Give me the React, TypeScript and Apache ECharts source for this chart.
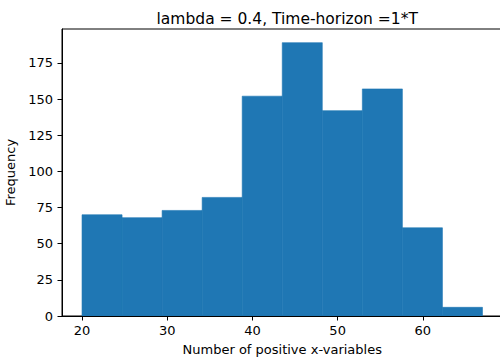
import { useEffect, useRef } from "react";
import * as echarts from "echarts";

// Histogram bins: edges and counts per bin
const binEdges = [20, 24.7, 29.4, 34.1, 38.8, 43.5, 48.2, 52.9, 57.6, 62.3, 67];
const counts = [70, 68, 73, 82, 152, 189, 142, 157, 61, 6];
const xTicks = [20, 30, 40, 50, 60];
const yTicks = [0, 25, 50, 75, 100, 125, 150, 175];

const titleText = "lambda = 0.4, Time-horizon =1*T";
const xName = "Number of positive x-variables";
const yName = "Frequency";

const FONT = "DejaVu Sans";
const BAR = "#1f77b4";

export default function App() {
  const ref = useRef<HTMLDivElement>(null);

  useEffect(() => {
    if (!ref.current) return;
    const chart = echarts.init(ref.current, undefined, { renderer: "svg" });

    const lo = binEdges[0];
    const hi = binEdges[binEdges.length - 1];
    const pad = (hi - lo) * 0.05;
    const yMax = Math.max(...counts) * 1.05;

    const data = counts.map((c, i) => [binEdges[i], binEdges[i + 1], c]);

    const gridLeft = 62;
    const gridWidth = 440.5;

    chart.setOption({
      animation: false,
      title: {
        text: titleText,
        left: gridLeft + gridWidth / 2,
        textAlign: "center",
        top: 6,
        textStyle: {
          fontFamily: FONT,
          fontSize: 15.5,
          fontWeight: "normal",
          color: "#000",
        },
      },
      grid: {
        left: gridLeft,
        top: 29,
        width: gridWidth,
        height: 287,
        containLabel: false,
        outerBoundsMode: "none",
        show: true,
        borderColor: "#000",
        borderWidth: 1,
        backgroundColor: "transparent",
      },
      xAxis: {
        type: "value",
        min: lo - pad,
        max: hi + pad,
        z: 10,
        name: xName,
        nameLocation: "middle",
        nameGap: 27,
        nameTextStyle: { fontFamily: FONT, fontSize: 13, color: "#000" },
        splitLine: { show: false },
        axisLine: { show: true, onZero: false, lineStyle: { color: "#000", width: 1 } },
        axisTick: {
          show: true,
          length: 4.5,
          customValues: xTicks,
          lineStyle: { color: "#000", width: 1 },
        },
        axisLabel: {
          show: true,
          customValues: xTicks,
          margin: 8,
          fontFamily: FONT,
          fontSize: 13,
          color: "#000",
        },
      },
      yAxis: {
        type: "value",
        min: 0,
        max: yMax,
        z: 10,
        name: yName,
        nameLocation: "middle",
        nameGap: 38,
        nameTextStyle: { fontFamily: FONT, fontSize: 13, color: "#000" },
        splitLine: { show: false },
        axisLine: { show: true, onZero: false, lineStyle: { color: "#000", width: 1 } },
        axisTick: {
          show: true,
          length: 4.5,
          customValues: yTicks,
          lineStyle: { color: "#000", width: 1 },
        },
        axisLabel: {
          show: true,
          customValues: yTicks,
          margin: 9,
          fontFamily: FONT,
          fontSize: 13,
          color: "#000",
        },
      },
      series: [
        {
          type: "custom",
          data,
          encode: { x: [0, 1], y: 2 },
          renderItem: (_params: any, api: any) => {
            const x0 = api.value(0);
            const x1 = api.value(1);
            const h = api.value(2);
            const pTop = api.coord([x0, h]);
            const pBot = api.coord([x1, 0]);
            return {
              type: "rect",
              shape: {
                x: pTop[0],
                y: pTop[1],
                width: pBot[0] - pTop[0],
                height: pBot[1] - pTop[1],
              },
              style: { fill: BAR, stroke: BAR, lineWidth: 0.6 },
            };
          },
        },
      ],
    });

    return () => chart.dispose();
  }, []);

  return (
    <div
      style={{
        position: "fixed",
        left: 0,
        top: 0,
        width: 500,
        height: 363,
        overflow: "hidden",
        background: "#fff",
      }}
    >
      <div ref={ref} style={{ width: 510, height: 363 }} />
    </div>
  );
}
